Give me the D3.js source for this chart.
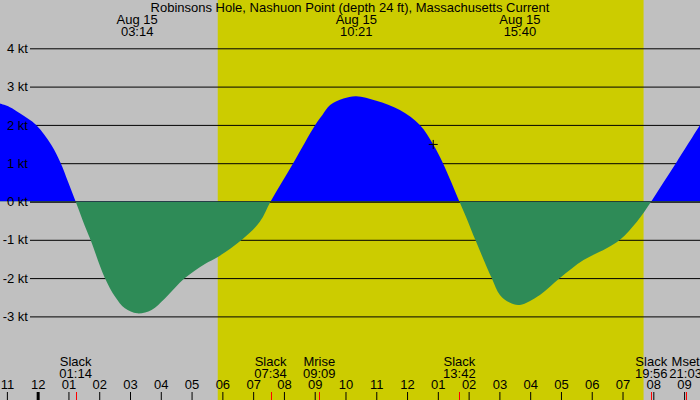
<!DOCTYPE html>
<html>
<head>
<meta charset="utf-8">
<script src="https://cdn.jsdelivr.net/npm/d3@7"></script>
<style>
  body { margin: 0; background: #c0c0c0; }
  svg { display: block; font-family: "Liberation Sans", Arial, sans-serif; }
</style>
</head>
<body>
<div id="chart"></div>
<script>
// Current speed (knots, + flood / - ebb)
const times = [
  'Aug 14 22:46', 'Aug 14 23:05', 'Aug 14 23:26', 'Aug 14 23:57', 'Aug 15 00:27',
  'Aug 15 00:45', 'Aug 15 00:59', 'Aug 15 01:14', 'Aug 15 01:28', 'Aug 15 01:43',
  'Aug 15 02:11', 'Aug 15 02:31', 'Aug 15 02:50', 'Aug 15 03:14', 'Aug 15 03:42',
  'Aug 15 04:08', 'Aug 15 04:47', 'Aug 15 05:26', 'Aug 15 05:52', 'Aug 15 06:38',
  'Aug 15 07:13', 'Aug 15 07:34', 'Aug 15 07:56', 'Aug 15 08:18', 'Aug 15 09:01',
  'Aug 15 09:15', 'Aug 15 09:30', 'Aug 15 09:56', 'Aug 15 10:21', 'Aug 15 11:00',
  'Aug 15 11:46', 'Aug 15 12:25', 'Aug 15 12:51', 'Aug 15 13:10', 'Aug 15 13:42',
  'Aug 15 13:58', 'Aug 15 14:13', 'Aug 15 14:45', 'Aug 15 15:01', 'Aug 15 15:20',
  'Aug 15 15:40', 'Aug 15 16:19', 'Aug 15 16:58', 'Aug 15 17:44', 'Aug 15 18:29',
  'Aug 15 18:55', 'Aug 15 19:28', 'Aug 15 19:56', 'Aug 15 20:20', 'Aug 15 20:44',
  'Aug 15 21:31'
];
const speeds = [
  2.56, 2.47, 2.30, 2.0, 1.47,
  1.0, 0.52, 0, -0.5, -1.0,
  -2.0, -2.49, -2.79, -2.92, -2.83,
  -2.53, -2.0, -1.63, -1.44, -1.0,
  -0.53, 0, 0.5, 1.0, 2.0,
  2.26, 2.52, 2.69, 2.75, 2.63,
  2.39, 2.0, 1.49, 1.0, 0,
  -0.5, -1.0, -2.0, -2.44, -2.64,
  -2.70, -2.44, -2.0, -1.53, -1.22,
  -1.0, -0.53, 0, 0.5, 1.0,
  2.0
];

const title = 'Robinsons Hole, Nashuon Point (depth 24 ft), Massachusetts Current';
const peakTimes = ['Aug 15 03:14', 'Aug 15 10:21', 'Aug 15 15:40'];
const eventNames = ['Slack', 'Slack', 'Mrise', 'Slack', 'Slack', 'Mset'];
const eventTimes = ['Aug 15 01:14', 'Aug 15 07:34', 'Aug 15 09:09', 'Aug 15 13:42', 'Aug 15 19:56', 'Aug 15 21:03'];
const sunrise = 'Aug 15 05:51';
const sunset = 'Aug 15 19:41';
const nowTime = 'Aug 15 12:51';
const nowSpeed = 1.49;
const speedTicks = [-3, -2, -1, 0, 1, 2, 3, 4];

const parse = d3.timeParse('%b %d %H:%M');
const data = times.map((t, i) => ({ date: parse(t), v: speeds[i] }));

const width = 700;
const height = 400;

const svg = d3.select('#chart')
  .append('svg')
  .attr('width', width)
  .attr('height', height);

// scales
const x = d3.scaleTime()
  .domain([parse('Aug 14 22:46'), parse('Aug 15 21:31')])
  .range([-0.3, 700]);

const y = d3.scaleLinear()
  .domain([-3, 4])
  .range([316.4, 48.3]);

// background + daylight band
svg.append('rect')
  .attr('width', width)
  .attr('height', height)
  .attr('fill', '#c0c0c0');

svg.append('rect')
  .attr('x', x(parse(sunrise)))
  .attr('width', x(parse(sunset)) - x(parse(sunrise)))
  .attr('height', height)
  .attr('fill', '#cccc00');

// grid lines (under the fill)
const grid = svg.append('g')
  .attr('transform', 'translate(30,0)')
  .call(d3.axisLeft(y).tickValues(speedTicks).tickSize(-(width - 30)).tickFormat(''));
grid.select('.domain').remove();
grid.selectAll('.tick line').attr('stroke', '#000');

// flood / ebb areas
const area = d3.area()
  .x(d => x(d.date))
  .y0(y(0))
  .y1(d => y(d.v))
  .curve(d3.curveCatmullRom.alpha(0.5));

const defs = svg.append('defs');
defs.append('clipPath').attr('id', 'above')
  .append('rect').attr('x', 0).attr('y', 0).attr('width', width).attr('height', y(0));
defs.append('clipPath').attr('id', 'below')
  .append('rect').attr('x', 0).attr('y', y(0)).attr('width', width).attr('height', height - y(0));

svg.append('path')
  .datum(data)
  .attr('clip-path', 'url(#above)')
  .attr('fill', '#0000ff')
  .attr('d', area);

svg.append('line')
  .attr('x1', 30)
  .attr('x2', width)
  .attr('y1', y(0) + 0.5)
  .attr('y2', y(0) + 0.5)
  .attr('stroke', '#000');

svg.append('path')
  .datum(data)
  .attr('clip-path', 'url(#below)')
  .attr('fill', '#2e8b57')
  .attr('d', area);

// speed labels (over the fill)
const yLabels = svg.append('g')
  .attr('transform', 'translate(30,0)')
  .call(d3.axisLeft(y).tickValues(speedTicks).tickSize(0).tickPadding(2).tickFormat(d => `${d} kt`));
yLabels.select('.domain').remove();
yLabels.selectAll('text')
  .attr('fill', '#000')
  .style('font-size', '13px')
  .style('font-family', '"Liberation Sans", Arial, sans-serif');

// current-time cross
const cx = x(parse(nowTime));
const cy = y(nowSpeed);
svg.append('path')
  .attr('d', `M${cx - 4.5},${cy}H${cx + 4.5}M${cx},${cy - 4.5}V${cy + 4.5}`)
  .attr('stroke', '#000')
  .attr('fill', 'none');

// title + peak labels
svg.append('text')
  .attr('x', width / 2)
  .attr('y', 12)
  .attr('text-anchor', 'middle')
  .style('font-size', '13px')
  .text(title);

const fmtDay = d3.timeFormat('%b %d');
const fmtHM = d3.timeFormat('%H:%M');

peakTimes.forEach(t => {
  const d = parse(t);
  svg.append('text')
    .attr('x', x(d))
    .attr('y', 24)
    .attr('text-anchor', 'middle')
    .style('font-size', '13px')
    .text(fmtDay(d));
  svg.append('text')
    .attr('x', x(d))
    .attr('y', 36)
    .attr('text-anchor', 'middle')
    .style('font-size', '13px')
    .text(fmtHM(d));
});

// event labels
eventTimes.forEach((t, i) => {
  const d = parse(t);
  svg.append('text')
    .attr('x', x(d))
    .attr('y', 366)
    .attr('text-anchor', 'middle')
    .style('font-size', '13px')
    .text(eventNames[i]);
  svg.append('text')
    .attr('x', x(d))
    .attr('y', 378)
    .attr('text-anchor', 'middle')
    .style('font-size', '13px')
    .text(fmtHM(d));
});

// hour axis along the bottom
const xAxis = svg.append('g')
  .attr('transform', `translate(0,${height})`)
  .call(d3.axisTop(x)
    .ticks(d3.timeHour.every(1))
    .tickSize(8)
    .tickPadding(3)
    .tickFormat(d3.timeFormat('%I')));
xAxis.select('.domain').remove();
xAxis.selectAll('.tick line')
  .attr('stroke', '#000')
  .attr('stroke-width', d => d.getHours() === 0 ? 3 : 1);
xAxis.selectAll('text')
  .attr('fill', '#000')
  .style('font-size', '13px')
  .style('font-family', '"Liberation Sans", Arial, sans-serif');

// red ticks for slack / moon events
eventTimes.forEach(t => {
  const xp = Math.round(x(parse(t))) + 0.5;
  svg.append('line')
    .attr('x1', xp)
    .attr('x2', xp)
    .attr('y1', height - 8)
    .attr('y2', height)
    .attr('stroke', '#ff0000');
});
</script>
</body>
</html>
